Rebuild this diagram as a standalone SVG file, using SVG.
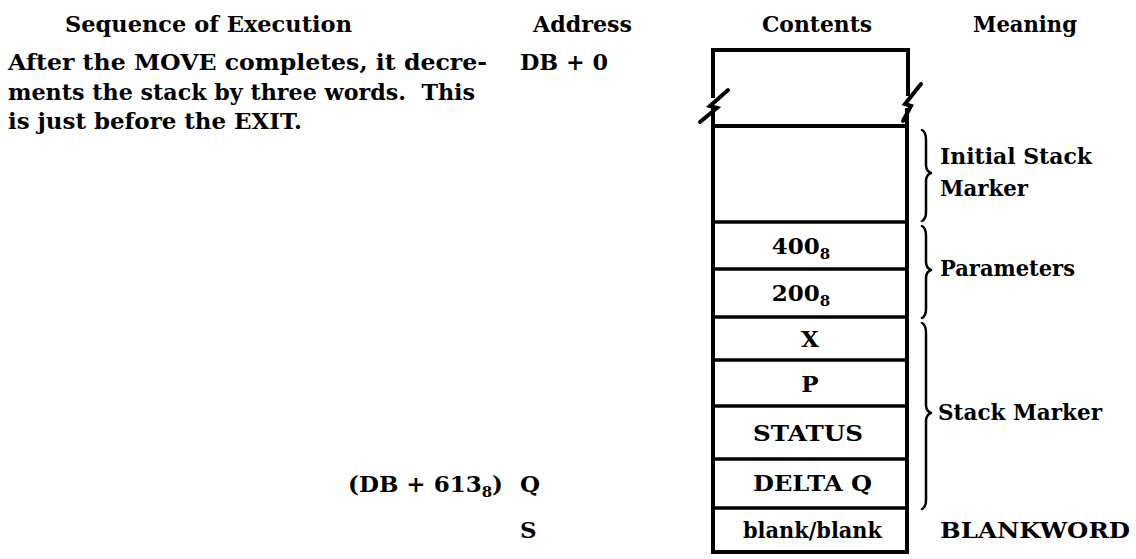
<svg xmlns="http://www.w3.org/2000/svg" width="1136" height="559" viewBox="0 0 1136 559">
<style>
text{font-family:"DejaVu Serif","Liberation Serif",serif;font-weight:bold;font-size:23px;fill:#000}
.c{text-anchor:middle}
.e{text-anchor:end}
.sub{font-size:15px}
.wall{fill:none;stroke:#000;stroke-width:4;stroke-linejoin:miter}
.bolt{fill:none;stroke:#000;stroke-width:4;stroke-linejoin:miter;stroke-linecap:round}
.row{fill:none;stroke:#000;stroke-width:3.5}
.brace{fill:none;stroke:#000;stroke-width:2.5;stroke-linecap:round;stroke-linejoin:round}
</style>
<rect width="1136" height="559" fill="#fff"/>
<g id="headers">
<text x="65" y="32" textLength="287" lengthAdjust="spacingAndGlyphs">Sequence of Execution</text>
<text x="533" y="32" textLength="99" lengthAdjust="spacingAndGlyphs">Address</text>
<text x="762" y="32" textLength="110" lengthAdjust="spacingAndGlyphs">Contents</text>
<text x="973" y="32" textLength="104" lengthAdjust="spacingAndGlyphs">Meaning</text>
</g>
<g id="description">
<text x="8" y="70" textLength="479" lengthAdjust="spacingAndGlyphs">After the MOVE completes, it decre-</text>
<text x="8" y="100" textLength="467" lengthAdjust="spacingAndGlyphs">ments the stack by three words.&#160; This</text>
<text x="8" y="129" textLength="294" lengthAdjust="spacingAndGlyphs">is just before the EXIT.</text>
</g>
<g id="addresses">
<text x="520" y="70" textLength="88" lengthAdjust="spacingAndGlyphs">DB + 0</text>
<text x="503" y="492" class="e">(DB + 613<tspan class="sub" dy="5">8</tspan><tspan dy="-5">)</tspan></text>
<text x="520" y="492">Q</text>
<text x="520" y="538">S</text>
</g>
<g id="stack">
<g id="db0-cell">
<path class="wall" d="M713,98 V50 H908 V96"/>
<path class="bolt" d="M728,90 L710,106 L717,108 L700,122"/>
<path class="bolt" d="M921,84 L905,104 L911,106 L903,121"/>
<path class="wall" d="M713,108 V554 M907,108 V554 M711,126 H909 M711,552 H909"/>
</g>
<g id="initial-cell"><line class="row" x1="713" y1="222" x2="907" y2="222"/></g>
<g id="p400-cell"><text x="801" y="254" class="c">400<tspan class="sub" dy="5">8</tspan></text><line class="row" x1="713" y1="269" x2="907" y2="269"/></g>
<g id="p200-cell"><text x="801" y="301" class="c">200<tspan class="sub" dy="5">8</tspan></text><line class="row" x1="713" y1="317" x2="907" y2="317"/></g>
<g id="x-cell"><text x="810" y="347" class="c">X</text><line class="row" x1="713" y1="360" x2="907" y2="360"/></g>
<g id="p-cell"><text x="810" y="392" class="c">P</text><line class="row" x1="713" y1="406" x2="907" y2="406"/></g>
<g id="status-cell"><text x="753" y="441" textLength="110" lengthAdjust="spacingAndGlyphs">STATUS</text><line class="row" x1="713" y1="459" x2="907" y2="459"/></g>
<g id="deltaq-cell"><text x="753" y="491" textLength="119" lengthAdjust="spacingAndGlyphs">DELTA Q</text><line class="row" x1="713" y1="508" x2="907" y2="508"/></g>
<g id="blank-cell"><text x="743" y="538" textLength="139" lengthAdjust="spacingAndGlyphs">blank/blank</text></g>
</g>
<g id="braces">
<path class="brace" d="M922,130 Q926,132 926,140 V165 Q926,171 931,173 Q926,175 926,181 V212 Q926,219 922,221"/>
<path class="brace" d="M922,226 Q926,228 926,236 V262 Q926,268 931,270 Q926,272 926,278 V309 Q926,316 922,318"/>
<path class="brace" d="M922,323 Q926,325 926,333 V405 Q926,411 931,413 Q926,415 926,421 V500 Q926,507 922,509"/>
</g>
<g id="meanings">
<text x="940" y="164" textLength="152" lengthAdjust="spacingAndGlyphs">Initial Stack</text>
<text x="940" y="196" textLength="88" lengthAdjust="spacingAndGlyphs">Marker</text>
<text x="940" y="276" textLength="135" lengthAdjust="spacingAndGlyphs">Parameters</text>
<text x="938" y="420" textLength="164" lengthAdjust="spacingAndGlyphs">Stack Marker</text>
<text x="940" y="538" textLength="190" lengthAdjust="spacingAndGlyphs">BLANKWORD</text>
</g>
</svg>
